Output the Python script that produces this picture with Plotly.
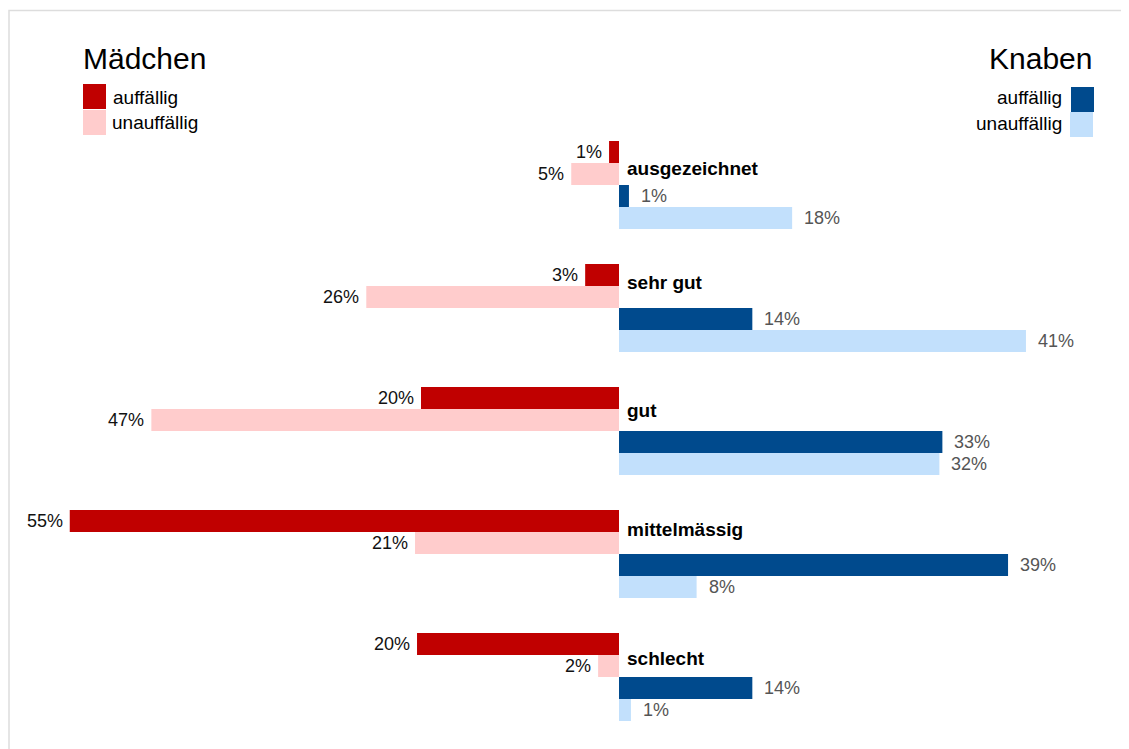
import plotly.graph_objects as go

categories = ["ausgezeichnet", "sehr gut", "gut", "mittelmässig", "schlecht"]

# bar lengths (percent)
girls_auff = [1.0, 3.4, 19.9, 55.2, 20.3]
girls_unauff = [4.8, 25.4, 47.0, 20.5, 2.1]
boys_auff = [1.0, 13.4, 32.5, 39.1, 13.4]
boys_unauff = [17.4, 40.9, 32.2, 7.8, 1.2]

# printed labels
girls_auff_lbl = ["1%", "3%", "20%", "55%", "20%"]
girls_unauff_lbl = ["5%", "26%", "47%", "21%", "2%"]
boys_auff_lbl = ["1%", "14%", "33%", "39%", "14%"]
boys_unauff_lbl = ["18%", "41%", "32%", "8%", "1%"]

C_GA = "#C00000"
C_GU = "#FFCCCC"
C_BA = "#004A8D"
C_BU = "#C2E0FC"

OFF = 8  # page body margin
W, H = 1129 - OFF, 749 - OFF
FONT = "Liberation Sans, Arial, sans-serif"

ypos = list(range(len(categories)))

fig = go.Figure()
series = [
    (girls_auff, girls_auff_lbl, C_GA, -1),
    (girls_unauff, girls_unauff_lbl, C_GU, -1),
    (boys_auff, boys_auff_lbl, C_BA, 1),
    (boys_unauff, boys_unauff_lbl, C_BU, 1),
]
for vals, lbls, col, sign in series:
    fig.add_trace(go.Bar(
        x=[sign * v for v in vals], y=ypos, orientation="h",
        marker=dict(color=col, line=dict(width=0)),
        showlegend=False, hoverinfo="skip",
    ))

annotations = []
for j, (vals, lbls, col, sign) in enumerate(series):
    for i, (v, l) in enumerate(zip(vals, lbls)):
        annotations.append(dict(
            x=sign * v, y=i, xref="x", yref="y", text=l, showarrow=False,
            xanchor="right" if sign < 0 else "left", yanchor="middle",
            xshift=-5 if sign < 0 else 10, yshift=-(j - 1.5) * 22,
            font=dict(family=FONT, size=18, color="#111111" if sign < 0 else "#555555"),
        ))

cat_shift = [17, 26, 21, 25, 19]
for i, c in enumerate(categories):
    annotations.append(dict(
        x=0, y=i, xref="x", yref="y", text="<b>%s</b>" % c, showarrow=False,
        xanchor="left", yanchor="middle", xshift=6, yshift=cat_shift[i],
        font=dict(family=FONT, size=19, color="#000000"),
    ))

def px(x):
    return (x - OFF) / W

def py(y):
    return 1 - (y - OFF) / H

# legend titles and texts
annotations += [
    dict(x=px(81), y=py(59), xref="paper", yref="paper", text="Mädchen", showarrow=False,
         xanchor="left", yanchor="middle", font=dict(family=FONT, size=30, color="#000")),
    dict(x=px(1094), y=py(59), xref="paper", yref="paper", text="Knaben", showarrow=False,
         xanchor="right", yanchor="middle", font=dict(family=FONT, size=30, color="#000")),
    dict(x=px(111), y=py(97), xref="paper", yref="paper", text="auffällig", showarrow=False,
         xanchor="left", yanchor="middle", font=dict(family=FONT, size=19, color="#000")),
    dict(x=px(110), y=py(122), xref="paper", yref="paper", text="unauffällig", showarrow=False,
         xanchor="left", yanchor="middle", font=dict(family=FONT, size=19, color="#000")),
    dict(x=px(1064), y=py(97), xref="paper", yref="paper", text="auffällig", showarrow=False,
         xanchor="right", yanchor="middle", font=dict(family=FONT, size=19, color="#000")),
    dict(x=px(1064), y=py(123), xref="paper", yref="paper", text="unauffällig", showarrow=False,
         xanchor="right", yanchor="middle", font=dict(family=FONT, size=19, color="#000")),
]

shapes = [
    dict(type="rect", xref="paper", yref="paper", x0=px(83), x1=px(106), y0=py(84), y1=py(109),
         fillcolor=C_GA, line=dict(width=0)),
    dict(type="rect", xref="paper", yref="paper", x0=px(83), x1=px(106), y0=py(110), y1=py(135),
         fillcolor=C_GU, line=dict(width=0)),
    dict(type="rect", xref="paper", yref="paper", x0=px(1071), x1=px(1094), y0=py(87), y1=py(112),
         fillcolor=C_BA, line=dict(width=0)),
    dict(type="rect", xref="paper", yref="paper", x0=px(1070), x1=px(1093), y0=py(112), y1=py(137),
         fillcolor=C_BU, line=dict(width=0)),
    dict(type="rect", xref="paper", yref="paper", x0=px(9), x1=px(1128), y0=py(10.5), y1=py(770),
         fillcolor="rgba(0,0,0,0)", line=dict(width=1.5, color="#DDDDDD")),
]

scale = 9.95  # px per percent
zero_px = 619 - OFF
pitch = 123
first_center = 185 - OFF

fig.update_layout(
    width=W, height=H,
    margin=dict(l=0, r=0, t=0, b=0),
    paper_bgcolor="white", plot_bgcolor="white",
    barmode="group", bargap=35 / 123, bargroupgap=0,
    xaxis=dict(range=[-zero_px / scale, (W - zero_px) / scale], visible=False, fixedrange=True),
    yaxis=dict(range=[(H - first_center) / pitch, -first_center / pitch], visible=False, fixedrange=True),
    annotations=annotations,
    shapes=shapes,
)

fig.write_html("out.html")
